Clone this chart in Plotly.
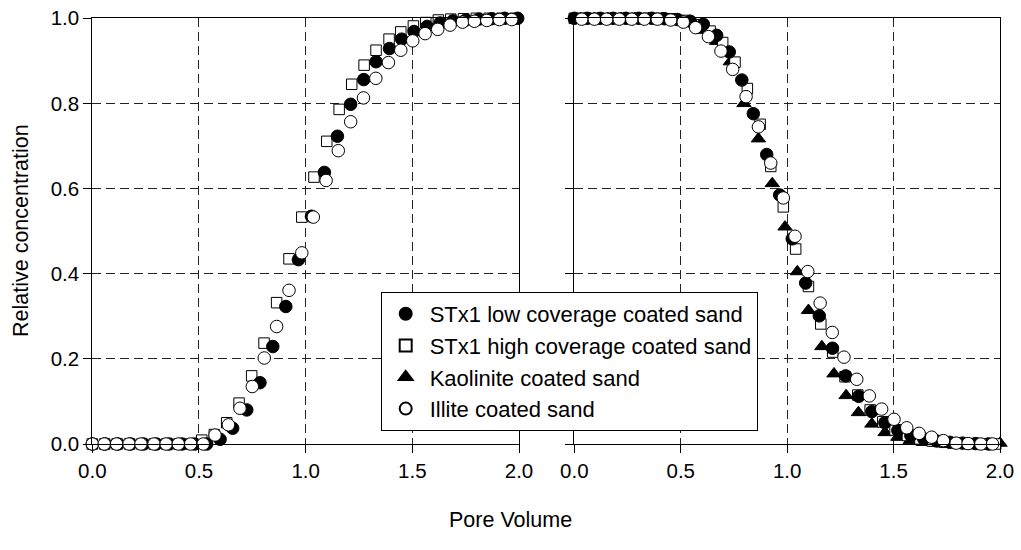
import plotly.graph_objects as go

# ---------------- data ----------------
# Left panel: breakthrough
low_L_x = [0.0, 0.06, 0.12, 0.18, 0.24, 0.30, 0.36, 0.42, 0.48, 0.536, 0.599, 0.658, 0.724, 0.786,
           0.846, 0.907, 0.966, 1.027, 1.088, 1.149, 1.211, 1.272, 1.330, 1.393, 1.450, 1.508,
           1.569, 1.630, 1.690, 1.751, 1.812, 1.872, 1.933, 1.994]
low_L_y = [0, 0, 0, 0, 0, 0, 0, 0, 0, 0.0, 0.011, 0.037, 0.080, 0.144, 0.229, 0.323, 0.433,
           0.535, 0.638, 0.723, 0.798, 0.856, 0.898, 0.929, 0.951, 0.969, 0.981, 0.989, 0.994,
           0.996, 0.998, 0.999, 1.0, 1.0]

high_L_x = [0.0, 0.058, 0.116, 0.174, 0.232, 0.29, 0.348, 0.406, 0.46, 0.513, 0.572, 0.630,
            0.688, 0.747, 0.805, 0.864, 0.922, 0.982, 1.039, 1.099, 1.157, 1.216, 1.274, 1.330,
            1.391, 1.446, 1.505, 1.563, 1.622, 1.68, 1.74, 1.80, 1.86, 1.92, 1.98]
high_L_y = [0, 0, 0, 0, 0, 0, 0, 0, 0, 0.009, 0.022, 0.050, 0.096, 0.160, 0.237, 0.332, 0.435,
            0.533, 0.627, 0.711, 0.786, 0.845, 0.890, 0.925, 0.951, 0.968, 0.982, 0.990, 0.996,
            0.998, 0.999, 1.0, 1.0, 1.0, 1.0]

illite_L_x = [0.0, 0.056, 0.114, 0.172, 0.228, 0.289, 0.346, 0.403, 0.461, 0.520, 0.575, 0.638,
              0.692, 0.750, 0.806, 0.864, 0.922, 0.982, 1.036, 1.096, 1.153, 1.211, 1.271, 1.329,
              1.388, 1.446, 1.502, 1.560, 1.619, 1.677, 1.735, 1.791, 1.849, 1.908, 1.966]
illite_L_y = [0, 0, 0, 0, 0, 0, 0, 0, 0, 0, 0.021, 0.045, 0.084, 0.135, 0.202, 0.276, 0.361,
              0.449, 0.533, 0.619, 0.689, 0.757, 0.813, 0.859, 0.896, 0.925, 0.947, 0.964, 0.974,
              0.984, 0.991, 0.993, 0.995, 0.997, 0.997]

# Right panel: elution
low_R_x = [0.0, 0.061, 0.122, 0.182, 0.243, 0.303, 0.364, 0.424, 0.485, 0.545, 0.606, 0.669,
           0.728, 0.787, 0.841, 0.904, 0.965, 1.024, 1.087, 1.151, 1.213, 1.275, 1.336, 1.398,
           1.459, 1.520, 1.581, 1.642, 1.703, 1.764, 1.825, 1.886, 1.947]
low_R_y = [1.0, 1.0, 1.0, 1.0, 1.0, 1.0, 1.0, 0.999, 0.997, 0.993, 0.986, 0.960, 0.921, 0.855,
           0.776, 0.680, 0.585, 0.482, 0.378, 0.301, 0.225, 0.160, 0.112, 0.076, 0.050, 0.032,
           0.020, 0.012, 0.007, 0.004, 0.002, 0.001, 0.0]

high_R_x = [0.0, 0.058, 0.116, 0.174, 0.232, 0.29, 0.348, 0.406, 0.464, 0.522, 0.580, 0.638,
            0.697, 0.755, 0.813, 0.873, 0.923, 0.982, 1.040, 1.100, 1.158, 1.214, 1.272, 1.332,
            1.390, 1.449, 1.507, 1.565, 1.624, 1.682, 1.74, 1.80, 1.86, 1.92, 1.98]
high_R_y = [1.0, 1.0, 1.0, 1.0, 1.0, 1.0, 1.0, 1.0, 0.999, 0.995, 0.985, 0.970, 0.943, 0.897,
            0.835, 0.751, 0.652, 0.557, 0.458, 0.370, 0.282, 0.216, 0.158, 0.115, 0.080, 0.052,
            0.033, 0.020, 0.012, 0.007, 0.004, 0.002, 0.001, 0.0, 0.0]

kaol_R_x = [0.029, 0.093, 0.157, 0.221, 0.285, 0.349, 0.413, 0.477, 0.541, 0.605, 0.669, 0.733,
            0.797, 0.865, 0.930, 0.990, 1.048, 1.100, 1.163, 1.220, 1.277, 1.335, 1.398, 1.460,
            1.520, 1.578, 1.64, 1.70, 1.76, 1.82, 1.88, 1.94, 2.0]
kaol_R_y = [1.0, 1.0, 1.0, 1.0, 1.0, 1.0, 1.0, 0.995, 0.988, 0.972, 0.946, 0.898, 0.800, 0.717,
            0.612, 0.510, 0.405, 0.314, 0.229, 0.165, 0.114, 0.074, 0.047, 0.027, 0.016, 0.008,
            0.004, 0.002, 0.001, 0.0, 0.0, 0.0, 0.002]

illite_R_x = [0.035, 0.094, 0.152, 0.211, 0.270, 0.329, 0.390, 0.453, 0.512, 0.570, 0.630, 0.689,
              0.744, 0.807, 0.865, 0.923, 0.982, 1.037, 1.097, 1.155, 1.212, 1.267, 1.327, 1.386,
              1.444, 1.502, 1.562, 1.620, 1.679, 1.734, 1.794, 1.85, 1.91, 1.965]
illite_R_y = [0.998, 0.998, 0.998, 0.998, 0.998, 0.998, 0.998, 0.996, 0.991, 0.978, 0.957, 0.923,
              0.880, 0.816, 0.745, 0.660, 0.578, 0.488, 0.405, 0.331, 0.262, 0.204, 0.152, 0.113,
              0.082, 0.058, 0.038, 0.025, 0.016, 0.008, 0.002, 0.001, 0.0, 0.0]

names = ["STx1 low coverage coated sand", "STx1 high coverage coated sand",
         "Kaolinite coated sand", "Illite coated sand"]
x_ticks = [0.0, 0.5, 1.0, 1.5, 2.0]
y_ticks = [0.0, 0.2, 0.4, 0.6, 0.8, 1.0]

# ---------------- styles ----------------
FONT = "Arial, 'Liberation Sans', sans-serif"
st_low = dict(symbol="circle", size=12.5, color="black", line=dict(color="black", width=1))
st_high = dict(symbol="square", size=10.5, color="white", line=dict(color="black", width=1))
st_kaol = dict(symbol="triangle-up", size=12.5, color="black", line=dict(color="black", width=1))
st_ill = dict(symbol="circle", size=12.5, color="white", line=dict(color="black", width=1))

fig = go.Figure()

def add(x, y, name, marker, xa, ya, show, rank):
    fig.add_trace(go.Scatter(x=x, y=y, mode="markers", name=name, marker=marker,
                             xaxis=xa, yaxis=ya, showlegend=show, legendrank=rank,
                             cliponaxis=False))

# drawing order: kaolinite, high, low, illite (illite on top)
add(high_L_x, high_L_y, names[1], st_high, "x", "y", False, 2)
add(low_L_x, low_L_y, names[0], st_low, "x", "y", False, 1)
add(illite_L_x, illite_L_y, names[3], st_ill, "x", "y", False, 4)

add(kaol_R_x, kaol_R_y, names[2], st_kaol, "x2", "y2", True, 3)
add(high_R_x, high_R_y, names[1], st_high, "x2", "y2", True, 2)
add(low_R_x, low_R_y, names[0], st_low, "x2", "y2", True, 1)
add(illite_R_x, illite_R_y, names[3], st_ill, "x2", "y2", True, 4)

W, H = 1021, 550
yb, yt = 1 - 444 / H, 1 - 18.3 / H
FS = 20.5

axis_common = dict(
    range=[0, 2], showline=True, mirror=True, linecolor="black", linewidth=1,
    showgrid=True, gridcolor="#222222", gridwidth=1, griddash="9px,5px",
    ticks="outside", ticklen=8, tickcolor="black", tickwidth=1, automargin=False,
    tickfont=dict(family=FONT, size=FS, color="black"), zeroline=False,
)
xcommon = dict(axis_common, tickvals=x_ticks, ticktext=[f"{v:.1f}" for v in x_ticks])
ycommon = dict(axis_common, range=[0, 1], tickvals=y_ticks,
               ticktext=[f"{v:.1f}" for v in y_ticks])

fig.update_layout(
    width=W, height=H,
    margin=dict(l=0, r=0, t=0, b=0, autoexpand=False),
    paper_bgcolor="white", plot_bgcolor="white",
    font=dict(family=FONT, color="black"),
    xaxis=dict(xcommon, domain=[92.3 / W, 519 / W], anchor="y"),
    yaxis=dict(ycommon, domain=[yb, yt], anchor="x"),
    xaxis2=dict(xcommon, domain=[574.3 / W, 1000 / W], anchor="y2"),
    yaxis2=dict(ycommon, domain=[yb, yt], anchor="x2", showticklabels=False),
    legend=dict(x=380.7 / W, y=1 - 361.5 / H, xanchor="left", yanchor="middle",
                bgcolor="white", bordercolor="black", borderwidth=1,
                font=dict(family=FONT, size=22, color="black"),
                tracegroupgap=0, itemsizing="constant", itemwidth=38),
    annotations=[
        dict(text="Pore Volume", x=510 / W, y=1 - 520 / H, xref="paper", yref="paper",
             showarrow=False, font=dict(family=FONT, size=21.5, color="black"),
             xanchor="center", yanchor="middle"),
        dict(text="Relative concentration", x=21 / W, y=1 - 231 / H, xref="paper",
             yref="paper", showarrow=False, textangle=-90,
             font=dict(family=FONT, size=21.5, color="black"),
             xanchor="center", yanchor="middle"),
    ],
)

fig.write_html("out.html")
